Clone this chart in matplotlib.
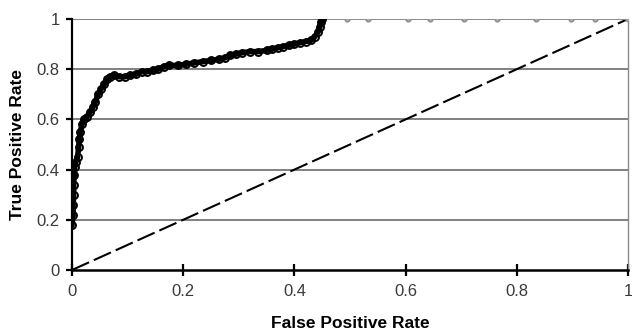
import matplotlib
matplotlib.use("Agg")
import matplotlib.pyplot as plt

# ROC curve (dense black part)
roc_fpr = [0.0, 0.002, 0.002, 0.003, 0.003, 0.004, 0.005, 0.007, 0.010, 0.012,
           0.013, 0.015, 0.018, 0.021, 0.027, 0.033, 0.038, 0.042, 0.047, 0.052,
           0.058, 0.063, 0.068, 0.075, 0.085, 0.095, 0.105, 0.115, 0.125, 0.135,
           0.145, 0.155, 0.165, 0.175, 0.19, 0.205, 0.22, 0.235, 0.25, 0.265,
           0.275, 0.285, 0.295, 0.305, 0.32, 0.335, 0.35, 0.36, 0.37, 0.38,
           0.39, 0.40, 0.41, 0.42, 0.43, 0.437, 0.443, 0.446, 0.448, 0.45]
roc_tpr = [0.18, 0.22, 0.26, 0.30, 0.34, 0.38, 0.41, 0.43, 0.45, 0.49,
           0.52, 0.55, 0.58, 0.60, 0.61, 0.63, 0.65, 0.67, 0.70, 0.72,
           0.74, 0.76, 0.77, 0.775, 0.77, 0.77, 0.775, 0.78, 0.79, 0.79,
           0.795, 0.80, 0.81, 0.815, 0.815, 0.82, 0.825, 0.83, 0.835, 0.84,
           0.845, 0.855, 0.86, 0.865, 0.87, 0.87, 0.875, 0.88, 0.885, 0.89,
           0.895, 0.90, 0.905, 0.91, 0.915, 0.93, 0.95, 0.97, 0.99, 1.0]

# sparse grey points along the top
top_fpr = [0.45, 0.494, 0.533, 0.604, 0.643, 0.705, 0.765, 0.834, 0.897, 0.94, 1.0]
top_tpr = [1.0] * len(top_fpr)

diag = [0.0, 1.0]
ticks = [0, 0.2, 0.4, 0.6, 0.8, 1]
tick_labels = ["0", "0.2", "0.4", "0.6", "0.8", "1"]

plt.rcParams["font.family"] = ["Liberation Sans", "DejaVu Sans"]

fig = plt.figure(figsize=(6.32, 3.33), dpi=100)
ax = fig.add_axes([72 / 632, 1 - 270 / 333, 556 / 632, 251 / 333])

for yv in ticks[1:]:
    ax.axhline(yv, color="#5e5e5e", lw=1.1, zorder=1)

ax.plot(diag, diag, color="black", lw=1.5, dashes=(9, 2.5), zorder=2)
ax.plot(top_fpr, top_tpr, color="#909090", lw=1.2, marker="o", ms=3.5,
        mfc="#a8a8a8", mec="#909090", zorder=3)
ax.plot(roc_fpr, roc_tpr, color="black", lw=4, zorder=4)
ax.plot(roc_fpr, roc_tpr, ls="none", marker="o", ms=5, mfc="none",
        mec="black", mew=1.4, zorder=5)

ax.set_xlim(0, 1)
ax.set_ylim(0, 1)
ax.set_xticks(ticks)
ax.set_xticklabels(tick_labels)
ax.set_yticks(ticks)
ax.set_yticklabels(tick_labels)

ax.spines["top"].set_visible(False)
ax.spines["right"].set_color("#8a8a8a")
ax.spines["right"].set_linewidth(1.0)
ax.spines["left"].set_linewidth(1.6)
ax.spines["bottom"].set_linewidth(1.8)

ax.tick_params(axis="both", labelsize=12, labelcolor="#3a3a3a", width=1.6)
ax.tick_params(axis="x", direction="inout", length=8, pad=6)
ax.tick_params(axis="y", direction="out", length=4, pad=5)

ax.set_xlabel("False Positive Rate", fontsize=12.5, fontweight="bold", labelpad=12)
ax.set_ylabel("True Positive Rate", fontsize=12.5, fontweight="bold", labelpad=8)

fig.savefig("out.png", dpi=100)
